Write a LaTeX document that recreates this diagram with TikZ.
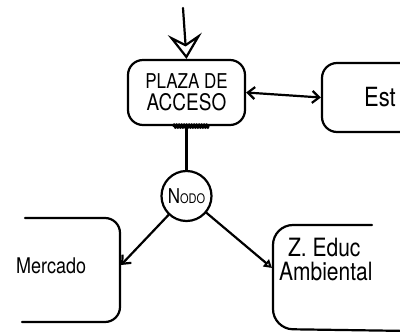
\documentclass[tikz,border=0pt]{standalone}
\usepackage{fontspec}
\setmainfont{TeX Gyre Heros}
\usepackage{tikz}
\usetikzlibrary{arrows.meta,decorations.pathmorphing}
\newcommand{\alto}[1]{\scalebox{1}[1.2]{#1}}

\begin{document}
\begin{tikzpicture}[x=1pt, y=-1pt, line width=2.2pt, line join=round, line cap=round,
    caja/.style={draw, rounded corners=15pt, inner sep=0pt, align=center},
    flecha/.style={-{Straight Barb[length=7pt, width=12pt]}},
    texto/.style={anchor=west, inner sep=0pt, align=left}]
    \clip (0,0) rectangle (400,332);
    \coordinate (entrada) at (183,8);
    \node[caja, minimum width=117pt, minimum height=65pt] (plaza) at (186.5,92.5)
        {\alto{\fontsize{17}{19}\selectfont PLAZA DE}\\[4pt]\alto{\fontsize{19}{21}\selectfont ACCESO}};
    \node[caja, minimum width=138pt, minimum height=69pt] (estac) at (391,97.5) {};
    \node[texto] (est) at (363,97) {\alto{\fontsize{22}{24}\selectfont Est}};
    \node[circle, draw, minimum size=50pt, inner sep=0pt] (nodo) at (186.5,196)
        {\alto{\fontsize{17}{19}\selectfont N\fontsize{11}{13}\selectfont ODO}};
    % cajas abiertas: Mercado a la izquierda, Z. Educ a la derecha
    \draw[rounded corners=15pt] (25,218) -- (120,218) -- (120,322) -- (22,322);
    \draw[rounded corners=20pt] (372,225) -- (273,225) -- (273,329) -- (410,331);
    \coordinate (merc) at (121,265); \coordinate (educ) at (272,268);
    \node[texto] (mercado) at (15,266) {\alto{\fontsize{18}{20}\selectfont Mercado}};
    \node[texto] (zona) at (287,248) {\alto{\fontsize{21}{23}\selectfont Z. Educ}};
    \node[texto] (amb) at (278,272) {\alto{\fontsize{21}{23}\selectfont Ambiental}};
    \draw[-{Stealth[open, length=25pt, width=34pt, inset=10pt]}] (entrada) -- (plaza.north);
    \draw[{Straight Barb[length=7pt, width=12pt]}-{Straight Barb[length=7pt, width=12pt]}]
        (plaza.east) -- (estac.west);
    \draw[decorate, decoration={zigzag, amplitude=1.8pt, segment length=2.5pt}]
        ([xshift=-13pt]plaza.south) -- ([xshift=22pt]plaza.south);
    \draw (plaza.south) -- (nodo.north);
    \draw[flecha] (nodo) -- (merc);
    \draw[-{Triangle[open, length=8pt, width=9pt]}] (nodo) -- (educ);
\end{tikzpicture}
\end{document}
